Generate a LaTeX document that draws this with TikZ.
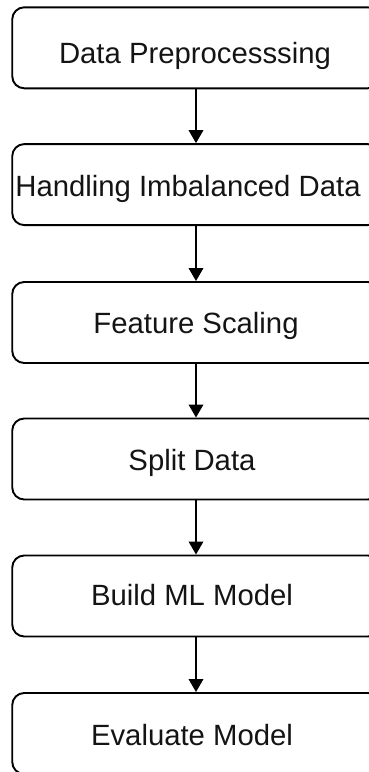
\documentclass[tikz,border=0pt]{standalone}
\usepackage{fontspec}
\setmainfont{Liberation Sans}
\usetikzlibrary{arrows.meta}
\begin{document}
\begin{tikzpicture}[x=1pt,y=-1pt,
  stepbox/.style={draw=black,line width=1.9pt,rounded corners=12pt,
    minimum width=367.5pt,minimum height=81pt,inner sep=0pt},
  lbl/.style={anchor=base,inner sep=0pt,font=\fontsize{29.3pt}{32pt}\selectfont,text=black!92},
  flow/.style={draw=black,line width=1.9pt,-{Triangle[width=14.5pt,length=13pt]}}]
\useasboundingbox (0,0) rectangle (369,772);
\node[stepbox] (b1) at (196,47.8) {};
\node[stepbox] (b2) at (196,184.6) {};
\node[stepbox] (b3) at (196,322.5) {};
\node[stepbox] (b4) at (196,459) {};
\node[stepbox] (b5) at (196,596) {};
\node[stepbox] (b6) at (196,733.5) {};
\node[lbl] (t1) at (195,63.3) {Data Preprocesssing};
\node[lbl] (t2) at (188,196) {Handling Imbalanced Data};
\node[lbl] (t3) at (196,333) {Feature Scaling};
\node[lbl] (t4) at (192,470) {Split Data};
\node[lbl] (t5) at (192,605) {Build ML Model};
\node[lbl] (t6) at (192,745) {Evaluate Model};
\draw[flow] (b1.south) -- (b2.north);
\draw[flow] (b2.south) -- (b3.north);
\draw[flow] (b3.south) -- (b4.north);
\draw[flow] (b4.south) -- (b5.north);
\draw[flow] (b5.south) -- (b6.north);
\end{tikzpicture}
\end{document}
